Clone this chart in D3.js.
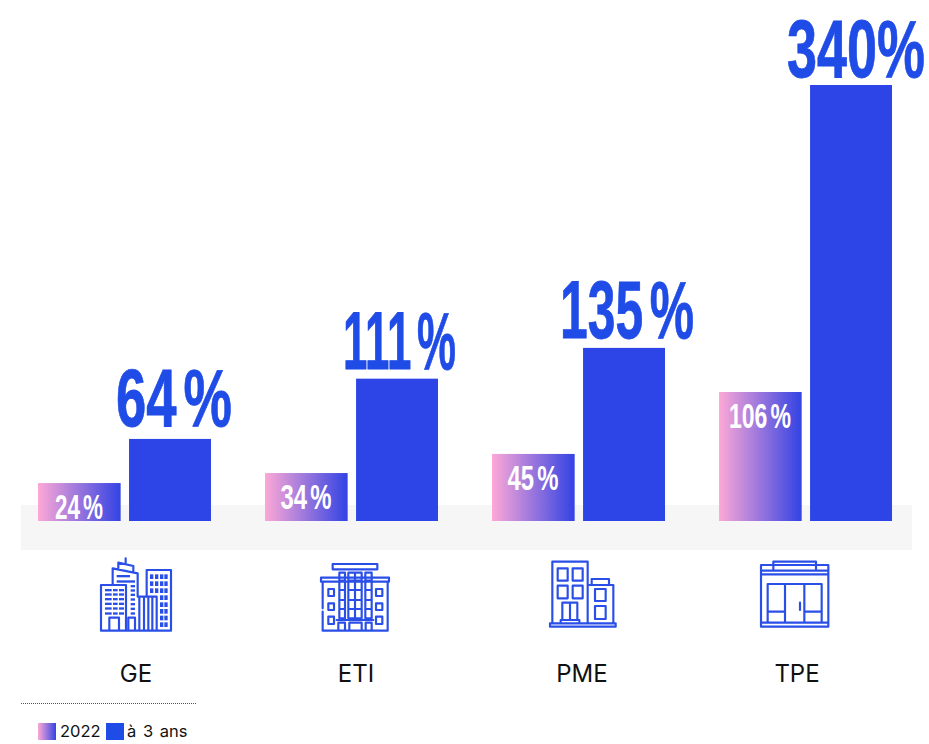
<!DOCTYPE html>
<html><head><meta charset="utf-8">
<script src="https://cdn.jsdelivr.net/npm/d3@7"></script>
<style>html,body{margin:0;padding:0;background:#fff}svg{display:block}</style>
</head><body><div id="c"></div>
<script>
const categories = ["GE","ETI","PME","TPE"];
const series = ["2022","à 3 ans"];
// bar lengths (in % units of the shared scale)
const bars2022 = [29.6,37.4,52.3,100.6];
const bars3ans = [64,111,135,340];
const labels2022 = ["24 %","34 %","45 %","106 %"];
const labels3ans = ["64 %","111 %","135 %","340%"];

// label layout, kept apart from the values
const liftBig = [13,10,10,8];
const shiftBig = [4,2.5,3,5];
const widthBig = [116,113,134,138];
const widthSmall = [48,51,51,62];
const labelX = [136,356,582,797];

const W=929,H=744, BLUE="#2d45e6", TXT="#1f4be6", ICON="#2a4fe8";
const svg=d3.select("#c").append("svg").attr("width",W).attr("height",H).style("font-family","Inter, sans-serif");
const defs=svg.append("defs");
const grad=defs.append("linearGradient").attr("id","g").attr("x1",0).attr("x2",1).attr("y1",0).attr("y2",0);
grad.append("stop").attr("offset",0).attr("stop-color","#fda8d6");
grad.append("stop").attr("offset",1).attr("stop-color","#3343e4");

const x0=d3.scaleBand().domain(categories).range([38,892]).paddingInner(0.238);
const x1=d3.scaleBand().domain(series).range([0,x0.bandwidth()]).paddingInner(0.1);
const y=d3.scaleLinear().domain([0,340]).range([521,85]);

svg.append("rect").attr("x",21).attr("y",505).attr("width",891).attr("height",45).attr("fill","#f6f6f6");

const g=svg.selectAll("g.grp").data(categories).join("g").attr("class","grp").attr("transform",d=>`translate(${x0(d)},0)`);
g.append("rect").attr("x",x1("2022")).attr("width",x1.bandwidth()+0.7)
 .attr("y",(d,i)=>y(bars2022[i])).attr("height",(d,i)=>y(0)-y(bars2022[i])).attr("fill","url(#g)");
g.append("rect").attr("x",x1("à 3 ans")).attr("width",x1.bandwidth())
 .attr("y",(d,i)=>y(bars3ans[i])).attr("height",(d,i)=>y(0)-y(bars3ans[i])).attr("fill",BLUE);

const font="'Liberation Sans',sans-serif";
g.append("text").text((d,i)=>labels3ans[i]).attr("x",(d,i)=>x1("à 3 ans")+x1.bandwidth()/2+shiftBig[i])
 .attr("y",(d,i)=>y(bars3ans[i])-liftBig[i]).attr("text-anchor","middle").attr("font-family",font)
 .attr("font-weight",700).attr("font-size",81).attr("fill",TXT).attr("stroke",TXT).attr("stroke-width",0.8).attr("word-spacing",-12)
 .attr("textLength",(d,i)=>widthBig[i]).attr("lengthAdjust","spacingAndGlyphs");
g.append("text").text((d,i)=>labels2022[i]).attr("x",x1("2022")+x1.bandwidth()/2)
 .attr("y",(d,i)=>y(bars2022[i])+36).attr("text-anchor","middle").attr("font-family",font)
 .attr("font-weight",700).attr("font-size",35).attr("fill","#fff").attr("word-spacing",-5)
 .attr("textLength",(d,i)=>widthSmall[i]).attr("lengthAdjust","spacingAndGlyphs");

// category labels
svg.selectAll("text.cat").data(categories).join("text").attr("class","cat").text(d=>d)
 .attr("x",(d,i)=>labelX[i]).attr("y",682).attr("text-anchor","middle").attr("font-size",24).attr("fill","#111");

// icons, drawn in 3x local coordinates
const R=(x,y,x2,y2)=>`M${x},${y}H${x2}V${y2}H${x}Z`;
const L=(...p)=>"M"+p.map(q=>q.join(",")).join("L");
const icons=[];
// GE
{let p=[R(243,135,318,272),R(358,170,410,272),R(268,233,297,272),R(325,233,345,272),
 L([278,135],[278,85],[353,100],[353,170]),L([295,85],[295,68],[340,78],[340,95]),L([317,55],[317,68]),
 L([380,170],[380,90],[453,90],[453,272],[243,272]),L([372,170],[372,272]),L([385,170],[385,272]),L([397,170],[397,272])];
 let f=[[290,105,330,112],[290,121,345,128]];
 [147,160,174,188,202,217].forEach(v=>{f.push([255,v,275,v+7],[279,v,293,v+7],[297,v,312,v+7])});
 [135,148,161,175,189,203,217].forEach(v=>f.push([332,v,345,v+7]));
 [103,124,145].forEach(v=>[390,405,420,433].forEach(u=>f.push([u,v,u+10,v+14])));
 [166,187,207,227,247].forEach(v=>[420,433].forEach(u=>f.push([u,v,u+10,v+14])));
 icons.push({o:[20,540],p:p.join(""),f});}
// ETI
{let p=[R(938,72,1072,88),R(903,113,1107,125),L([908,125],[908,205]),L([908,215],[908,272],[1103,272],[1103,125]),
 L([950,240],[1060,240]),R(958,98,975,235),R(985,98,1025,235),R(1036,98,1055,235),
 L([1005,98],[1005,235]),L([958,122],[975,122]),L([985,122],[1025,122]),L([1036,122],[1055,122]),
 L([958,150],[975,150]),L([985,150],[1025,150]),L([1036,150],[1055,150]),
 L([958,180],[975,180]),L([985,180],[1025,180]),L([1036,180],[1055,180]),
 L([958,207],[975,207]),L([985,207],[1025,207]),L([1036,207],[1055,207]),
 R(925,147,942,168),R(925,190,942,210),R(925,230,942,252),R(1068,147,1087,168),R(1068,190,1087,210),R(1068,230,1087,252),
 L([955,272],[955,248],[975,248],[975,272]),L([988,272],[988,248],[1025,248],[1025,272]),L([1037,272],[1037,248],[1055,248],[1055,272])];
 icons.push({o:[20,540],p:p.join(""),f:[]});}
// PME
{let p=[R(217,65,323,250),R(233,85,263,122),R(278,85,308,122),R(233,137,263,175),R(278,137,308,175),
 R(247,188,292,240),L([270,188],[270,240]),R(242,240,298,250),R(323,135,400,250),R(335,117,387,135),
 R(345,147,377,183),R(345,198,377,237),R(210,250,407,260)];
 icons.push({o:[480,540],p:p.join(""),f:[]});}
// TPE
{let p=[R(843,75,1045,260),R(880,65,1008,92),L([843,92],[1045,92]),L([843,103],[1045,103]),R(863,132,1025,248),
 L([915,132],[915,248]),L([973,132],[973,248]),L([863,215],[915,215]),L([973,215],[1025,215]),L([960,188],[960,210]),L([843,248],[1045,248])];
 icons.push({o:[480,540],p:p.join(""),f:[]});}
const ig=svg.selectAll("g.icon").data(icons).join("g").attr("class","icon").attr("transform",d=>`translate(${d.o[0]},${d.o[1]}) scale(${1/3})`);
ig.append("path").attr("d",d=>d.p).attr("fill","none").attr("stroke",ICON).attr("stroke-width",6.5).attr("stroke-linejoin","round").attr("stroke-linecap","round");
ig.selectAll("rect").data(d=>d.f).join("rect").attr("x",d=>d[0]).attr("y",d=>d[1]).attr("width",d=>d[2]-d[0]).attr("height",d=>d[3]-d[1]).attr("fill",ICON);

// legend
svg.append("line").attr("x1",21).attr("x2",196).attr("y1",703.5).attr("y2",703.5).attr("stroke","#555").attr("stroke-dasharray","1 1");
const legX=[38,106], legT=[60,127];
series.forEach((s,i)=>{
 svg.append("rect").attr("x",legX[i]).attr("y",723).attr("width",18).attr("height",17).attr("fill",i?"#1f4be6":"url(#g)");
 svg.append("text").attr("x",legT[i]).attr("y",737).attr("font-size",16.5).attr("word-spacing",2).attr("fill","#111").text(s);
});
</script></body></html>
